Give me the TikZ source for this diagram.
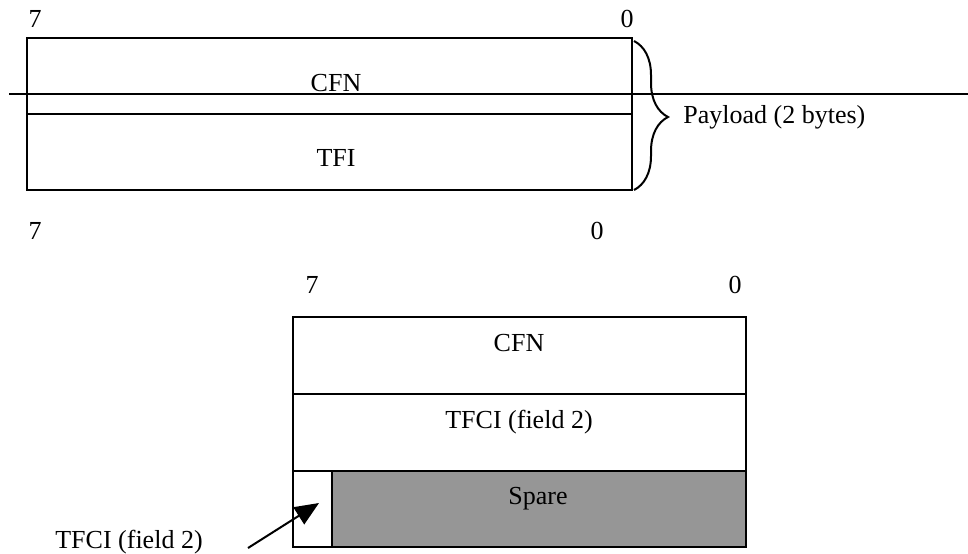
\documentclass[tikz,border=0pt]{standalone}
\usepackage{fontspec}
\setmainfont{Liberation Serif}
\usetikzlibrary{decorations.pathreplacing,arrows.meta}
\definecolor{spare}{RGB}{150,150,150}
\begin{document}
\begin{tikzpicture}[x=0.5pt,y=-0.5pt,
  every node/.style={font=\fontsize{13pt}{15pt}\selectfont, inner sep=0pt},
  txt/.style={anchor=center}]
\useasboundingbox (0,0) rectangle (968,553);
% top structure
\draw[line width=1pt] (27,38) rectangle (632,190);
\draw[line width=1pt] (27,114) -- (632,114);
\draw[line width=1.3pt] (9,94) -- (968,94);
\node[txt] (t7) at (35,19) {7};
\node[txt] (t0) at (627,19) {0};
\node[txt] (cfn1) at (336,83) {CFN};
\node[txt] (tfi1) at (336,158) {TFI};
\draw[line width=1pt, decorate, decoration={brace, amplitude=17pt, aspect=0.51}] (634,41) -- (634,190);
\node[anchor=west] (pl) at (683,117) {Payload (2 bytes)};
\node[txt] (b7) at (35,231) {7};
\node[txt] (b0) at (597,231) {0};
% lower structure
\node[txt] (l7) at (312,285) {7};
\node[txt] (l0) at (735,285) {0};
\fill[spare] (332,471) rectangle (746,547);
\draw[line width=1pt] (293,317) rectangle (746,547);
\draw[line width=1pt] (293,394) -- (746,394);
\draw[line width=1pt] (293,471) -- (746,471);
\draw[line width=1pt] (332,471) -- (332,547);
\node[txt] (cfn2) at (519,343) {CFN};
\node[txt] (tfci) at (519,422) {TFCI (field 2)};
\node[txt] (spare) at (538,499) {Spare};
\node[txt] (tfcil) at (129,542) {TFCI (field 2)};
\coordinate (as) at (248,548);
\coordinate (at) at (319,503);
\draw[line width=1pt, -{Triangle[length=12pt,width=10pt]}] (as) -- (at);
\end{tikzpicture}
\end{document}
